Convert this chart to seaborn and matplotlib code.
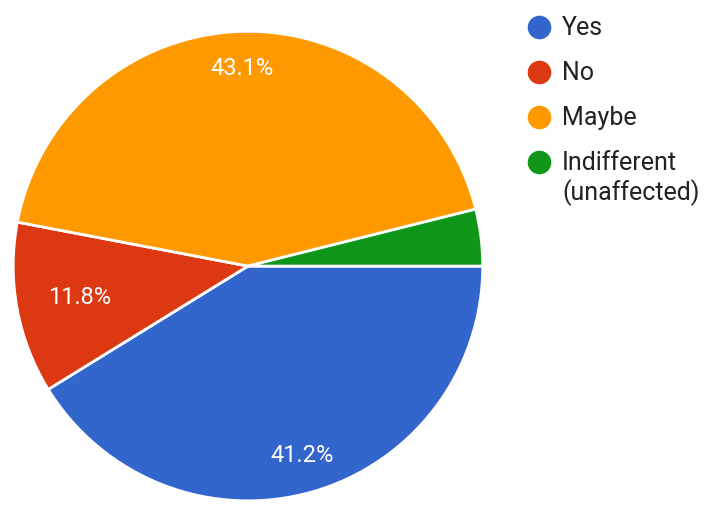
import numpy as np
import seaborn as sns
import matplotlib.pyplot as plt
from matplotlib.lines import Line2D

# survey answers (percent)
labels = ['Yes', 'No', 'Maybe', 'Indifferent']
extra_line = '(unaffected)'
shares = [41.2, 11.8, 43.1, 3.9]
colors = ['#3366CC', '#DC3912', '#FF9900', '#109618']

sns.set_style('white')
plt.rcParams['font.family'] = ['Roboto', 'DejaVu Sans']

fig = plt.figure(figsize=(7.13, 5.14), dpi=100)
ax = fig.add_axes([0.0168, 0.0233, 0.662, 0.918])

def pct(p):
    return '%.1f%%' % p if p >= 5 else ''

wedges, texts, autotexts = ax.pie(
    shares, colors=colors, startangle=0, counterclock=False,
    autopct=pct, pctdistance=0.82,
    wedgeprops=dict(edgecolor='white', linewidth=2),
    textprops=dict(color='white', fontsize=17))

# google-style label placement: small slices a bit closer to the centre
for w, t, s in zip(wedges, autotexts, shares):
    mid = np.deg2rad((w.theta1 + w.theta2) / 2)
    d = 0.73 if s < 20 else 0.84
    t.set_position((d * np.cos(mid), d * np.sin(mid)))
ax.set_xlim(-1.005, 1.005)
ax.set_ylim(-1.005, 1.005)
ax.set_aspect('equal')

handles = [Line2D([], [], marker='o', linestyle='', markersize=16,
                  markerfacecolor=c, markeredgecolor=c) for c in colors]
leg = fig.legend(handles, labels, loc='upper left', bbox_to_anchor=(0.704, 1.012),
                 frameon=False, fontsize=18, labelspacing=0.84, handletextpad=0.3,
                 handlelength=1.2, labelcolor='#222222')

# second line of the last label, so the marker stays next to the first line
fig.canvas.draw()
last = leg.texts[-1]
x, y = last.get_transform().transform(last.get_position())
fig.text(x / fig.bbox.width, (y - 1.2 * 18 * fig.dpi / 72) / fig.bbox.height,
         extra_line, fontsize=18, color='#222222', va='baseline', ha='left')

fig.savefig('out.png', dpi=100)
